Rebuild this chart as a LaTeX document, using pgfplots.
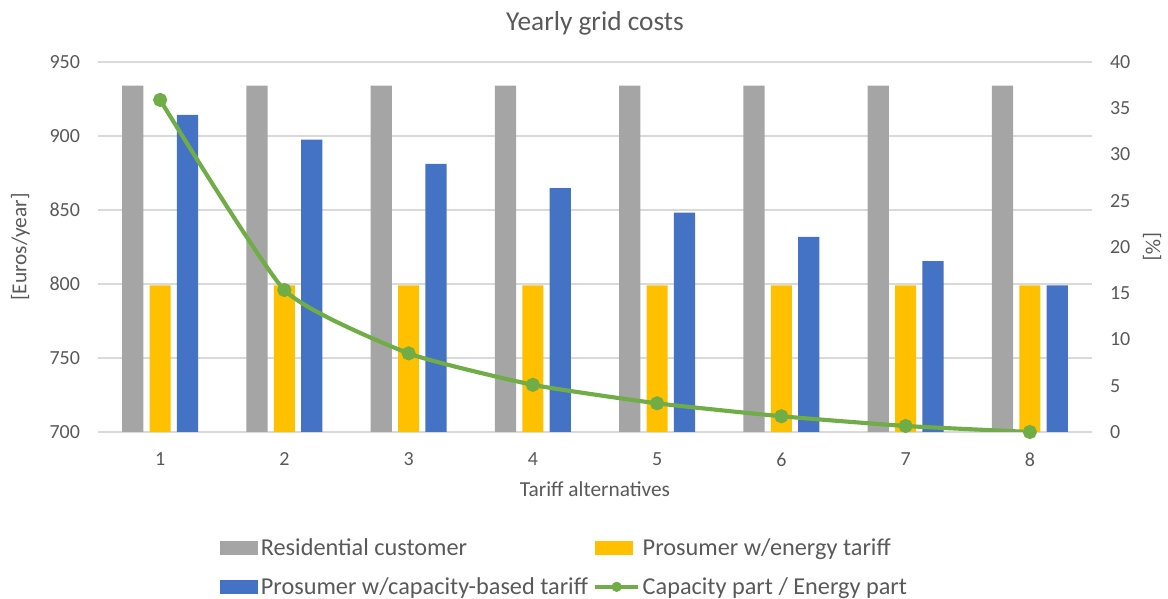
\documentclass[border=0pt]{standalone}
\usepackage{pgfplots}
\pgfplotsset{compat=1.18}
\usepackage{fontspec}
\setmainfont{Carlito}
\definecolor{cgray}{HTML}{A5A5A5}
\definecolor{cyellow}{HTML}{FFC000}
\definecolor{cblue}{HTML}{4472C4}
\definecolor{cgreen}{HTML}{70AD47}
\definecolor{ctext}{HTML}{595959}
\definecolor{cgrid}{HTML}{D9D9D9}
\begin{document}
\begin{tikzpicture}
\path[use as bounding box] (-73.5pt,-125.25pt) rectangle (802.5pt,324pt);
\begin{axis}[
  scale only axis, width=745.5pt, height=277.5pt,
  xmin=0.5, xmax=8.5, ymin=700, ymax=950,
  xtick={1,2,3,4,5,6,7,8},
  ytick={700,750,800,850,900,950},
  major tick length=0pt,
  axis line style={draw=none},
  ymajorgrids, major grid style={draw=cgrid, line width=1.1pt},
  /pgf/number format/assume math mode=true,
  /pgf/number format/1000 sep={},
  tick label style={font=\fontsize{15}{18}\selectfont, text=ctext},
  yticklabel style={xshift=-10pt},
  xticklabel style={yshift=-12pt},
  title={Yearly grid costs},
  title style={at={(axis description cs:0.5,1.084)}, anchor=center, font=\fontsize{20.5}{24}\selectfont, text=ctext},
  xlabel={Tariff alternatives},
  xlabel style={at={(axis description cs:0.5,-0.154)}, anchor=center, font=\fontsize{16}{19}\selectfont, text=ctext},
  ylabel={[Euros/year]},
  ylabel style={at={(axis description cs:-0.078,0.5)}, anchor=center, font=\fontsize{16}{19}\selectfont, text=ctext},
  legend columns=2,
  legend cell align=left,
  legend style={at={(axis description cs:0.1227,-0.28)}, anchor=north west, draw=none, fill=none,
    font=\fontsize{18.2}{22}\selectfont, text=ctext, inner sep=0pt,
    /tikz/every even column/.append style={column sep=2pt},
    row sep=11pt},
]
\addplot[ybar, bar width=0.17, bar shift=-0.22, fill=cgray, draw=none,
  legend image code/.code={\fill[cgray] (0pt,-5.25pt) rectangle (28.5pt,5.25pt);}]
  coordinates {(1,934) (2,934) (3,934) (4,934) (5,934) (6,934) (7,934) (8,934)};
\addlegendentry{Residential customer}
\addplot[ybar, bar width=0.17, bar shift=0, fill=cyellow, draw=none,
  legend image code/.code={\fill[cyellow] (0pt,-5.25pt) rectangle (28.5pt,5.25pt);}]
  coordinates {(1,799) (2,799) (3,799) (4,799) (5,799) (6,799) (7,799) (8,799)};
\addlegendentry{Prosumer w/energy tariff}
\addplot[ybar, bar width=0.17, bar shift=0.22, fill=cblue, draw=none,
  legend image code/.code={\fill[cblue] (0pt,-5.25pt) rectangle (28.5pt,5.25pt);}]
  coordinates {(1,914.2) (2,897.6) (3,881.1) (4,864.7) (5,848.3) (6,831.9) (7,815.4) (8,799)};
\addlegendentry{Prosumer w/capacity-based tariff}
\addlegendimage{legend image code/.code={
  \draw[cgreen, line width=3.1pt] (0pt,0pt) -- (32pt,0pt);
  \fill[cgreen] (16pt,0pt) circle (3.6pt);}}
\addlegendentry{Capacity part / Energy part}
\end{axis}
\begin{axis}[
  scale only axis, width=745.5pt, height=277.5pt,
  xmin=0.5, xmax=8.5, ymin=0, ymax=40,
  ytick={0,5,10,15,20,25,30,35,40},
  axis x line=none,
  axis y line*=right,
  major tick length=0pt,
  axis line style={draw=none},
  /pgf/number format/assume math mode=true,
  tick label style={font=\fontsize{15}{18}\selectfont, text=ctext},
  yticklabel style={xshift=10pt},
  ylabel={[\%]},
  ylabel style={at={(axis description cs:1.0604,0.5)}, anchor=center, rotate=180, font=\fontsize{16}{19}\selectfont, text=ctext},
]
\addplot[cgreen, line width=3.1pt, smooth, tension=0.3, mark=*, mark size=3.7pt, mark options={fill=cgreen, draw=cgreen}]
  coordinates {(1,35.9) (2,15.35) (3,8.5) (4,5.1) (5,3.1) (6,1.7) (7,0.65) (8,0)};
\end{axis}
\end{tikzpicture}
\end{document}
